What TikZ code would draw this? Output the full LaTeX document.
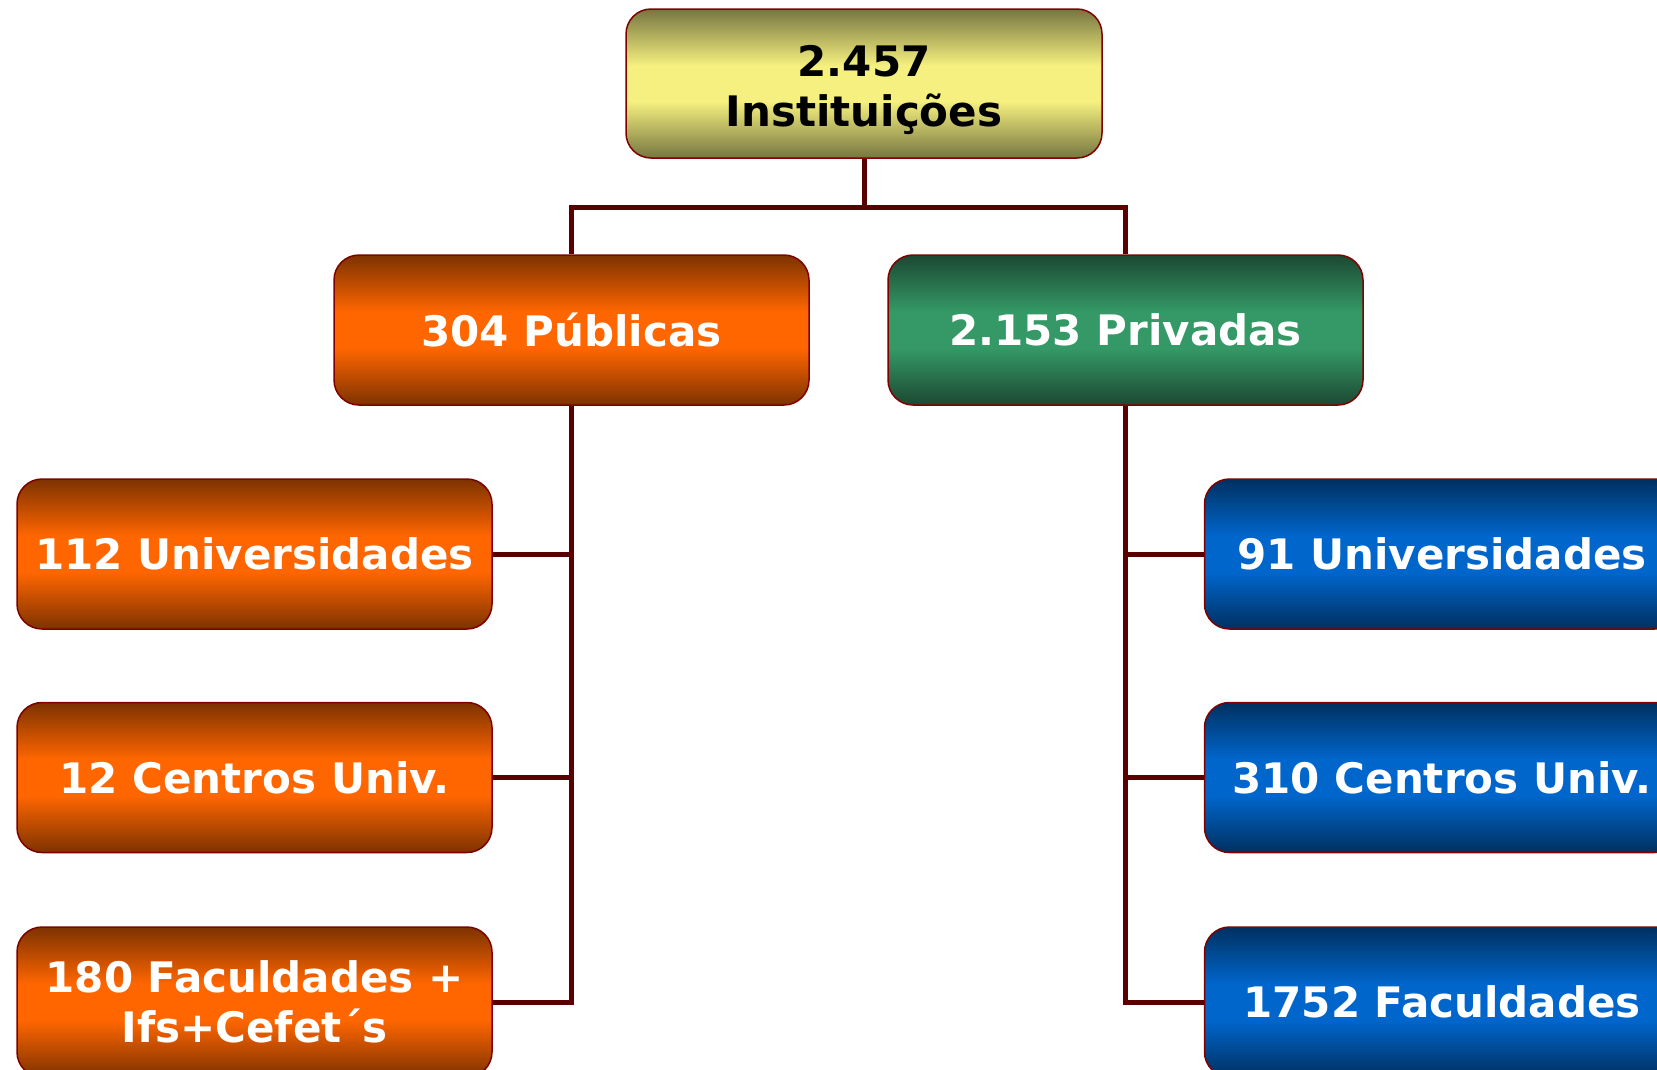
\documentclass[tikz,border=0pt]{standalone}
\usepackage{fontspec}
\setmainfont{DejaVu Sans}
\definecolor{boxborder}{RGB}{128,0,0}
\definecolor{linkcol}{RGB}{90,0,0}
\definecolor{orDark}{RGB}{125,50,0}
\definecolor{orMid}{RGB}{255,102,0}
\definecolor{ylDark}{RGB}{118,118,64}
\definecolor{ylMid}{RGB}{245,240,127}
\definecolor{grDark}{RGB}{28,72,50}
\definecolor{grMid}{RGB}{52,153,102}
\definecolor{blDark}{RGB}{0,48,96}
\definecolor{blMid}{RGB}{0,102,204}
\pgfdeclareverticalshading{orshade}{100bp}{color(0bp)=(orDark); color(25bp)=(orDark); color(44bp)=(orMid); color(56bp)=(orMid); color(75bp)=(orDark); color(100bp)=(orDark)}
\pgfdeclareverticalshading{ylshade}{100bp}{color(0bp)=(ylDark); color(25bp)=(ylDark); color(44bp)=(ylMid); color(56bp)=(ylMid); color(75bp)=(ylDark); color(100bp)=(ylDark)}
\pgfdeclareverticalshading{grshade}{100bp}{color(0bp)=(grDark); color(25bp)=(grDark); color(44bp)=(grMid); color(56bp)=(grMid); color(75bp)=(grDark); color(100bp)=(grDark)}
\pgfdeclareverticalshading{blshade}{100bp}{color(0bp)=(blDark); color(25bp)=(blDark); color(44bp)=(blMid); color(56bp)=(blMid); color(75bp)=(blDark); color(100bp)=(blDark)}
\tikzset{
  box/.style={rounded corners=25pt, draw=boxborder, line width=1.5pt,
    minimum width=475pt, minimum height=150pt, inner sep=0pt, align=center,
    font=\fontsize{42}{50}\selectfont\bfseries, text=white},
  orbox/.style={box, shading=orshade},
  ylbox/.style={box, shading=ylshade, text=black},
  grbox/.style={box, shading=grshade},
  blbox/.style={box, shading=blshade},
  link/.style={draw=linkcol, line width=5pt}
}
\begin{document}
\begin{tikzpicture}[x=1pt,y=-1pt]
\useasboundingbox (0,0) rectangle (1657,1069);
\coordinate (bus) at (864,207);
\node[ylbox, minimum height=149pt, minimum width=476pt] (top) at (864,83.5)
  {\raisebox{-8pt}[\height][\depth]{\begin{tabular}{@{}c@{}}2.457\\Instituições\end{tabular}}};
\node[orbox] (pub) at (571.5,330) {304 Públicas};
\node[grbox] (priv) at (1125.5,330) {2.153 Privadas};
\node[orbox] (puni) at (254.5,554) {112 Universidades};
\node[orbox] (pcen) at (254.5,777.5) {12 Centros Univ.};
\node[orbox] (pfac) at (254.5,1002) {180 Faculdades +\\Ifs+Cefet´s};
\node[blbox] (runi) at (1442,554) {91 Universidades};
\node[blbox] (rcen) at (1442,777.5) {310 Centros Univ.};
\node[blbox] (rfac) at (1442,1002) {1752 Faculdades};
\draw[link] (top.south) -- (bus);
\draw[link] (pub.north) -- (pub.north |- bus) -- (priv.north |- bus) -- (priv.north);
\draw[link] (pub.south) -- (pub.south |- pfac.east) -- (pfac.east);
\draw[link] (puni.east) -- (puni.east -| pub.south);
\draw[link] (pcen.east) -- (pcen.east -| pub.south);
\draw[link] (priv.south) -- (priv.south |- rfac.west) -- (rfac.west);
\draw[link] (runi.west) -- (runi.west -| priv.south);
\draw[link] (rcen.west) -- (rcen.west -| priv.south);
\end{tikzpicture}
\end{document}
